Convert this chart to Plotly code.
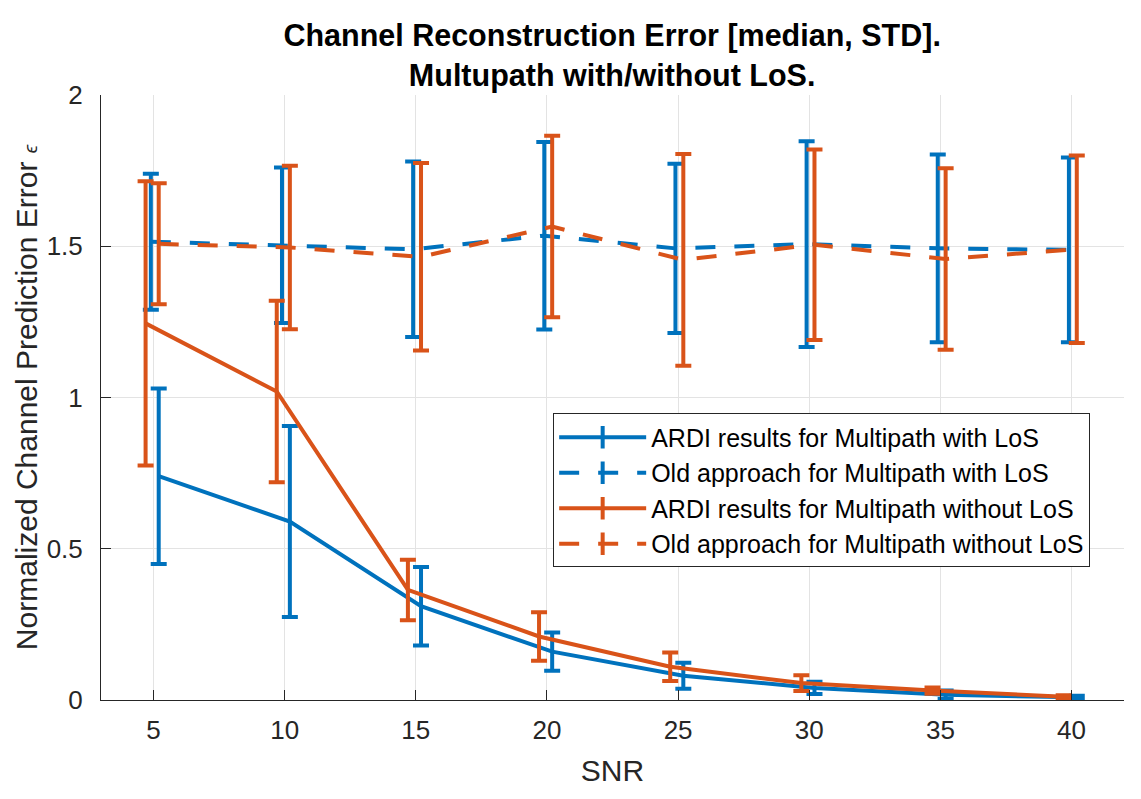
import plotly.graph_objects as go

# ---- data ----
snr = [5, 10, 15, 20, 25, 30, 35, 40]

ardi_los = [0.74, 0.59, 0.31, 0.16, 0.08, 0.04, 0.017, 0.009]
ardi_los_std = [0.29, 0.316, 0.13, 0.063, 0.043, 0.02, 0.014, 0.005]

old_los = [1.515, 1.503, 1.49, 1.535, 1.493, 1.507, 1.493, 1.488]
old_los_std = [0.225, 0.257, 0.29, 0.31, 0.28, 0.34, 0.31, 0.305]

ardi_nlos = [1.245, 1.02, 0.364, 0.21, 0.11, 0.056, 0.031, 0.011]
ardi_nlos_std = [0.47, 0.30, 0.10, 0.08, 0.047, 0.026, 0.01, 0.005]

old_nlos = [1.508, 1.496, 1.465, 1.565, 1.455, 1.505, 1.458, 1.49]
old_nlos_std = [0.20, 0.27, 0.31, 0.30, 0.35, 0.315, 0.30, 0.31]

# small horizontal shifts used in the original so the error bars don't overlap
shift_ardi_los = 0.2
shift_old_los = -0.1
shift_ardi_nlos = -0.3
shift_old_nlos = 0.2

names = [
    "ARDI results for Multipath with LoS",
    "Old approach for Multipath with LoS",
    "ARDI results for Multipath without LoS",
    "Old approach for Multipath without LoS",
]

BLUE = "#0072BD"
ORANGE = "#D95319"
FONT = "Liberation Sans, Arial, Helvetica, sans-serif"
DARK = "#262626"
DASH = "20px,19px"

series = [
    (ardi_los, ardi_los_std, shift_ardi_los, BLUE, "solid"),
    (old_los, old_los_std, shift_old_los, BLUE, DASH),
    (ardi_nlos, ardi_nlos_std, shift_ardi_nlos, ORANGE, "solid"),
    (old_nlos, old_nlos_std, shift_old_nlos, ORANGE, DASH),
]

fig = go.Figure()
for name, (vals, std, sh, col, dash) in zip(names, series):
    fig.add_trace(go.Scatter(
        x=[s + sh for s in snr], y=vals, name=name, showlegend=False,
        mode="lines",
        line=dict(color=col, width=4, dash=dash),
        error_y=dict(type="data", array=std, symmetric=True,
                     color=col, thickness=4, width=8),
    ))

# legend entries (line + error-bar like glyph)
for name, (vals, std, sh, col, dash) in zip(names, series):
    fig.add_trace(go.Scatter(
        x=[None], y=[None], name=name, mode="lines+markers",
        line=dict(color=col, width=4, dash=dash),
        marker=dict(symbol="line-ns-open", size=16, color=col,
                    line=dict(color=col, width=4)),
    ))

fig.update_layout(
    width=1141, height=799,
    margin=dict(l=101, r=17, t=95, b=99),
    paper_bgcolor="white", plot_bgcolor="white",
    font=dict(family=FONT, color=DARK, size=26),
    title=dict(
        text="<b>Channel Reconstruction Error [median, STD].<br>Multupath with/without LoS.</b>",
        x=0.5365, xanchor="center", y=1, yanchor="bottom", yref="paper",
        pad=dict(b=49),
        font=dict(family=FONT, size=30.5, color="black"),
    ),
    showlegend=True,
    legend=dict(
        x=0.442, y=0.3463, xanchor="left", yanchor="middle",
        bgcolor="white", bordercolor=DARK, borderwidth=1,
        font=dict(family=FONT, size=25, color="black"),
        itemwidth=87, tracegroupgap=0,
    ),
)

fig.update_xaxes(
    range=[3, 42], tickmode="array", tickvals=snr, ticktext=[str(s) for s in snr],
    showgrid=True, gridcolor="#e3e3e3", gridwidth=1, zeroline=False,
    showline=True, linecolor=DARK, linewidth=1, mirror=False,
    ticks="inside", ticklen=10, tickcolor=DARK, tickwidth=1,
    ticklabelstandoff=7,
    title=dict(text="SNR", font=dict(size=30, color=DARK), standoff=15),
)
fig.update_yaxes(
    range=[0, 2], tickmode="array", tickvals=[0, 0.5, 1, 1.5, 2],
    ticktext=["0", "0.5", "1", "1.5", "2"],
    showgrid=True, gridcolor="#e3e3e3", gridwidth=1, zeroline=False,
    showline=True, linecolor=DARK, linewidth=1, mirror=False,
    ticks="inside", ticklen=10, tickcolor=DARK, tickwidth=1,
    ticklabelstandoff=12,
    title=dict(text="Normalized Channel Prediction Error <span style='font-size:19px'><i>ϵ</i></span>",
               font=dict(size=30, color=DARK), standoff=0),
)

fig.write_html("out.html")
